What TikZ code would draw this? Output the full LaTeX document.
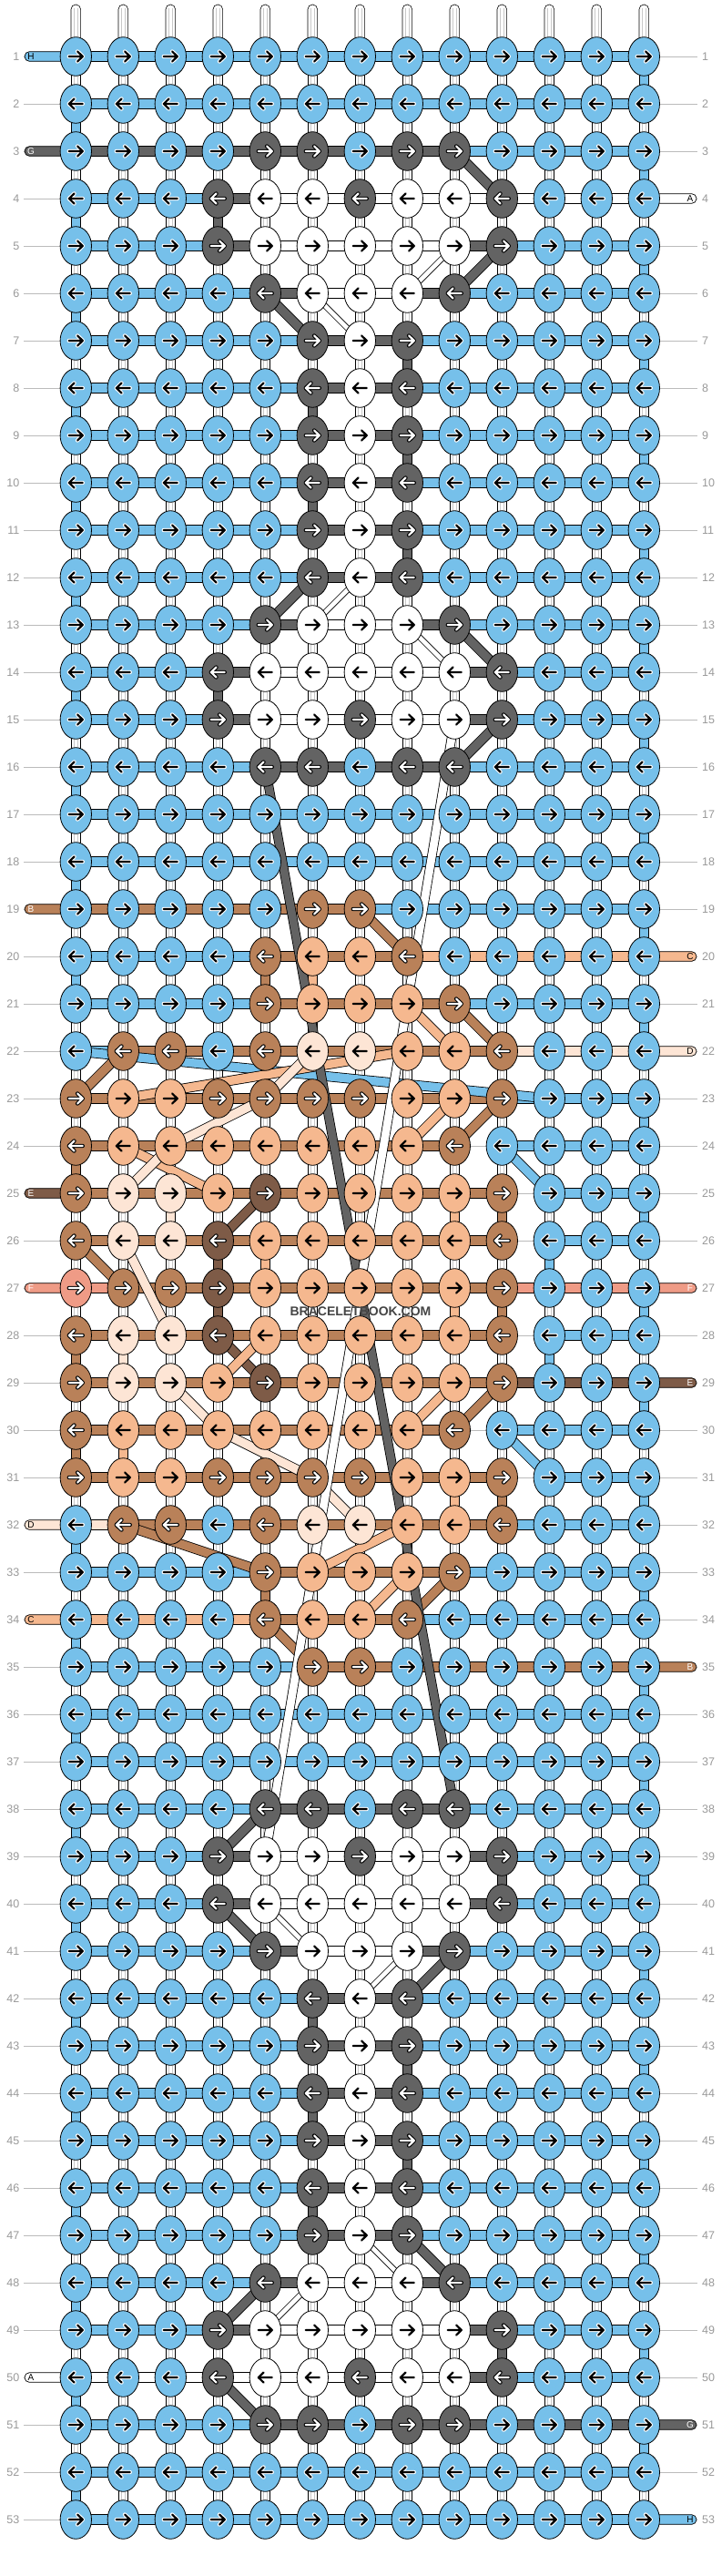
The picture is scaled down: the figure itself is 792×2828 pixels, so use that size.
\documentclass[tikz,border=0pt]{standalone}
\usepackage{fontspec}
\setmainfont{Liberation Sans}
\definecolor{cB}{HTML}{76C0EA}
\definecolor{cD}{HTML}{636363}
\definecolor{cW}{HTML}{FFFFFF}
\definecolor{cb}{HTML}{B98159}
\definecolor{cP}{HTML}{F5B88F}
\definecolor{cL}{HTML}{FDE5D5}
\definecolor{cE}{HTML}{7E5B47}
\definecolor{cF}{HTML}{EF9B86}
\colorlet{arB}{black}\colorlet{haB}{white}
\colorlet{arD}{white}\colorlet{haD}{black}
\colorlet{arW}{black}\colorlet{haW}{white}
\colorlet{arb}{white}\colorlet{hab}{black}
\colorlet{arP}{black}\colorlet{haP}{cP}
\colorlet{arL}{black}\colorlet{haL}{cL}
\colorlet{arE}{white}\colorlet{haE}{black}
\colorlet{arF}{white}\colorlet{haF}{black}
\definecolor{numgray}{HTML}{9A9A9A}
\definecolor{guidegray}{HTML}{BBBBBB}
\definecolor{pipegray}{HTML}{C8C8C8}
\definecolor{textgray}{HTML}{454545}
\tikzset{
  bar/.style={draw=black,line width=0.7pt},
  knot/.style={draw=black,line width=0.8pt},
  pipe/.style={draw=black,fill=white,line width=0.6pt},
  pipeline/.style={draw=pipegray,line width=0.6pt},
  vbar/.style={draw=black,line width=0.6pt},
  guide/.style={draw=guidegray,line width=0.8pt},
}
\newcount\mycc
\def\fcloop#1{\ifx\relax#1\else\fcbody{#1}\advance\mycc by 1\relax\expandafter\fcloop\fi}
\def\rowloop#1#2{\mycc=0\relax\let\fcbody#2\expandafter\fcloop#1\relax}
\def\barbody#1{\if N#1\else\pgfmathsetmacro\xa{83.3+52*\the\mycc}\draw[bar,fill=c#1] (\xa,\yy-5.3) rectangle (\xa+52,\yy+5.3);\fi}
\def\nodebody#1{\pgfmathsetmacro\xa{83.3+52*\the\mycc}%
  \pgfmathsetmacro\xs{\xa-7.5*\dir}\pgfmathsetmacro\xe{\xa+7.5*\dir}\pgfmathsetmacro\xh{\xa+1.8*\dir}%
  \draw[knot,fill=c#1] (\xa,\yy) ellipse [x radius=17.2pt,y radius=21.3pt];%
  \draw[line width=4.4pt,line cap=round,line join=round,draw=ha#1] (\xs,\yy)--(\xe,\yy) (\xh,\yy-5.5)--(\xe,\yy)--(\xh,\yy+5.5);%
  \draw[line width=2.2pt,line cap=round,line join=round,draw=ar#1] (\xs,\yy)--(\xe,\yy) (\xh,\yy-5.5)--(\xe,\yy)--(\xh,\yy+5.5);}
\def\rowdata{1/BBBBBBBBBBBBB/BBBBBBBBBBBB,%
2/BBBBBBBBBBBBB/BBBBBBBBBBBB,%
3/BBBBDDBDDBBBB/DDDDDDDDBBBB,%
4/BBBDWWDWWDBBB/BBBDWWWWWWWW,%
5/BBBDWWWWWDBBB/BBBDWWWWDBBB,%
6/BBBBDWWWDBBBB/BBBBDWWDBBBB,%
7/BBBBBDWDBBBBB/BBBBBDDBBBBB,%
8/BBBBBDWDBBBBB/BBBBBDDBBBBB,%
9/BBBBBDWDBBBBB/BBBBBDDBBBBB,%
10/BBBBBDWDBBBBB/BBBBBDDBBBBB,%
11/BBBBBDWDBBBBB/BBBBBDDBBBBB,%
12/BBBBBDWDBBBBB/BBBBBDDBBBBB,%
13/BBBBDWWWDBBBB/BBBBDWWDBBBB,%
14/BBBDWWWWWDBBB/BBBDWWWWDBBB,%
15/BBBDWWDWWDBBB/BBBDWWWWDBBB,%
16/BBBBDDBDDBBBB/BBBBDDDDBBBB,%
17/BBBBBBBBBBBBB/BBBBBBBBBBBB,%
18/BBBBBBBBBBBBB/BBBBBBBBBBBB,%
19/BBBBBbbBBBBBB/bbbbbbBBBBBB,%
20/BBBBbPPbBBBBB/BBBBbbbPPPPP,%
21/BBBBbPPPbBBBB/BBBBbbbbBBBB,%
22/BbbBbLLPPbBBB/BbbbbbbbbLLL,%
23/bPPbbbbPPbBBB/bbbbbbbbbBBB,%
24/bPPPPPPPbBBBB/bbbbbbbbNBBB,%
25/bLLPEPPPPbBBB/bbbbbbbbbNBB,%
26/bLLEPPPPPbBBB/bbbbbbbbbNBB,%
27/FbbEPPPPPbBBB/FbbbbbbbbFFF,%
28/bLLEPPPPPbBBB/bbbbbbbbbNBB,%
29/bLLPEPPPPbBBB/bbbbbbbbbEEE,%
30/bPPPPPPPbBBBB/bbbbbbbbNBBB,%
31/bPPbbbbPPbBBB/bbbbbbbbbNBB,%
32/BbbBbLLPPbBBB/LbbbbbbbbBBB,%
33/BBBBbPPPbBBBB/BBBBbbbbBBBB,%
34/BBBBbPPbBBBBB/PPPPbbbBBBBB,%
35/BBBBBbbBBBBBB/BBBBBbbbbbbb,%
36/BBBBBBBBBBBBB/BBBBBBBBBBBB,%
37/BBBBBBBBBBBBB/BBBBBBBBBBBB,%
38/BBBBDDBDDBBBB/BBBBDDDDBBBB,%
39/BBBDWWDWWDBBB/BBBDWWWWDBBB,%
40/BBBDWWWWWDBBB/BBBDWWWWDBBB,%
41/BBBBDWWWDBBBB/BBBBDWWDBBBB,%
42/BBBBBDWDBBBBB/BBBBBDDBBBBB,%
43/BBBBBDWDBBBBB/BBBBBDDBBBBB,%
44/BBBBBDWDBBBBB/BBBBBDDBBBBB,%
45/BBBBBDWDBBBBB/BBBBBDDBBBBB,%
46/BBBBBDWDBBBBB/BBBBBDDBBBBB,%
47/BBBBBDWDBBBBB/BBBBBDDBBBBB,%
48/BBBBDWWWDBBBB/BBBBDWWDBBBB,%
49/BBBDWWWWWDBBB/BBBDWWWWDBBB,%
50/BBBDWWDWWDBBB/WWWWWWWWDBBB,%
51/BBBBDDBDDBBBB/BBBBDDDDDDDD,%
52/BBBBBBBBBBBBB/BBBBBBBBBBBB,%
53/BBBBBBBBBBBBB/BBBBBBBBBBBB}
\begin{document}
\begin{tikzpicture}[x=1pt,y=-1pt]
\fill[white] (0,0) rectangle (792,2828);
\useasboundingbox (0,0) rectangle (792,2828);
% guide lines
\foreach \r in {1,...,53}{\pgfmathsetmacro\yy{62+52*(\r-1)}\draw[guide] (26,\yy)--(766,\yy);}
% top stubs
\foreach \c in {0,...,12}{\pgfmathsetmacro\xa{83.3+52*\c}
  \draw[pipe,rounded corners=5.2pt] (\xa-5.3,50)--(\xa-5.3,5)--(\xa+5.3,5)--(\xa+5.3,50);
  \draw[pipeline] (\xa-1.8,9)--(\xa-1.8,50) (\xa+1.8,9)--(\xa+1.8,50);}
% vertical pipes
\foreach \r in {1,...,52}{\pgfmathsetmacro\ya{62+52*(\r-1)}\pgfmathsetmacro\yb{\ya+52}
  \foreach \c in {0,...,12}{\pgfmathsetmacro\xa{83.3+52*\c}
    \draw[pipe] (\xa-5.3,\ya) rectangle (\xa+5.3,\yb);
    \draw[pipeline] (\xa-1.8,\ya)--(\xa-1.8,\yb) (\xa+1.8,\ya)--(\xa+1.8,\yb);}}
% coloured verticals
\foreach \r/\c/\col in {24/0/b,28/0/b,30/0/b,4/3/D,7/7/D,8/5/D,9/7/D,10/5/D,11/7/D,14/3/D,39/9/D,42/5/D,43/7/D,44/5/D,45/7/D,46/5/D,49/9/D,20/4/b,20/5/P,25/8/P,25/9/b,25/2/L,26/3/E,27/3/E,26/4/P,28/1/L,30/1/P,27/8/P,27/9/b,31/8/P,31/9/b,26/10/B,28/10/B,33/4/b}{
  \pgfmathsetmacro\ya{62+52*(\r-1)}\pgfmathsetmacro\xa{83.3+52*\c}
  \draw[vbar,fill=c\col] (\xa-5.3,\ya) rectangle (\xa+5.3,\ya+52);}
\foreach \r in {2,4,...,20,32,34,...,52}{\pgfmathsetmacro\ya{62+52*(\r-1)}
  \draw[vbar,fill=cB] (83.3-5.3,\ya) rectangle (83.3+5.3,\ya+52);}
\foreach \r in {1,3,...,51}{\pgfmathsetmacro\ya{62+52*(\r-1)}
  \draw[vbar,fill=cB] (707.3-5.3,\ya) rectangle (707.3+5.3,\ya+52);}
% horizontal bars
\foreach \r/\nd/\bd in \rowdata {\pgfmathsetmacro\yy{62+52*(\r-1)}\rowloop\bd\barbody}
% tags
\foreach \r/\xa/\xb/\xl/\col/\tl/\tc in {1/27/83/34/B/H/black,3/27/83/34/D/G/white,19/27/83/34/b/B/white,25/27/83/34/E/E/white,27/27/83/34/F/F/white,32/27/83/34/L/D/black,34/27/83/34/P/C/black,50/27/83/34/W/A/black,4/707/765/758/W/A/black,20/707/765/758/P/C/black,22/707/765/758/L/D/black,27/707/765/758/F/F/white,29/707/765/758/E/E/white,35/707/765/758/b/B/white,51/707/765/758/D/G/white,53/707/765/758/B/H/black}{
  \pgfmathsetmacro\yy{62+52*(\r-1)}
  \draw[bar,fill=c\col,rounded corners=5.2pt] (\xa,\yy-5.3) rectangle (\xb,\yy+5.3);
  \node[font=\fontsize{10}{10}\selectfont,text=\tc,inner sep=0pt] at (\xl,\yy) {\tl};}
% diagonal strands (thick)
\foreach \ra/\ca/\rb/\cbb/\col in {3/8/4/9/D,5/9/6/8/D,6/4/7/5/D,12/5/13/4/D,13/8/14/9/D,15/9/16/8/D,51/4/50/3/D,49/3/48/4/D,48/8/47/7/D,42/7/41/8/D,41/4/40/3/D,39/3/38/4/D,
  19/6/20/7/b,21/8/22/9/b,21/7/22/8/P,22/1/23/0/b,22/0/23/10/B,23/1/22/7/P,24/2/23/4/L,23/4/22/5/L,24/1/25/3/P,25/1/24/2/L,25/4/26/3/E,26/0/27/1/b,26/1/28/2/L,28/3/29/4/E,28/4/29/3/P,29/2/30/3/L,30/3/31/5/L,31/5/32/6/L,29/9/30/8/b,29/8/30/7/P,24/9/25/10/B,30/9/31/10/B,32/1/33/4/b,33/5/32/7/P,33/8/34/7/b,33/7/34/6/P,34/4/35/5/b,23/9/24/8/b,23/8/24/7/P}{
  \pgfmathsetmacro\xa{83.3+52*\ca}\pgfmathsetmacro\ya{62+52*(\ra-1)}
  \pgfmathsetmacro\xb{83.3+52*\cbb}\pgfmathsetmacro\yb{62+52*(\rb-1)}
  \draw[line width=11pt,black] (\xa,\ya)--(\xb,\yb);
  \draw[line width=9.4pt,c\col] (\xa,\ya)--(\xb,\yb);}
% thin white diagonals
\foreach \ra/\ca/\rb/\cbb in {5/8/6/7,6/5/7/6,12/6/13/5,13/7/14/8,49/4/48/5,48/7/47/6,42/6/41/7,41/5/40/4}{
  \pgfmathsetmacro\xa{83.3+52*\ca}\pgfmathsetmacro\ya{62+52*(\ra-1)}
  \pgfmathsetmacro\xb{83.3+52*\cbb}\pgfmathsetmacro\yb{62+52*(\rb-1)}
  \draw[line width=6.4pt,black] (\xa,\ya)--(\xb,\yb);
  \draw[line width=4.8pt,white] (\xa,\ya)--(\xb,\yb);}
% long strands
\coordinate (dA) at (291.3,842);
\coordinate (dB) at (499.3,1986);
\coordinate (wA) at (499.3,790);
\coordinate (wB) at (291.3,2038);
\draw[line width=10.4pt,black] (dA)--(dB);
\draw[line width=8.8pt,cD] (dA)--(dB);
\draw[line width=10.4pt,black] (wA)--(wB);
\draw[line width=8.8pt,white] (wA)--(wB);
% knots
\foreach \r/\nd/\bd in \rowdata {\pgfmathsetmacro\yy{62+52*(\r-1)}%
  \ifodd\r\relax\def\dir{1}\else\def\dir{-1}\fi
  \rowloop\nd\nodebody}
% row numbers
\foreach \r in {1,...,53}{\pgfmathsetmacro\yy{62+52*(\r-1)}
  \node[anchor=east,inner sep=0pt,font=\fontsize{12.5}{12.5}\selectfont,text=numgray] at (21.5,\yy) {\r};
  \node[anchor=west,inner sep=0pt,font=\fontsize{12.5}{12.5}\selectfont,text=numgray] at (771,\yy) {\r};}
\node[font=\fontsize{14}{14}\bfseries\selectfont,text=textgray,inner sep=0pt] (brand) at (396,1439.5) {BRACELETBOOK.COM};
\end{tikzpicture}
\end{document}
